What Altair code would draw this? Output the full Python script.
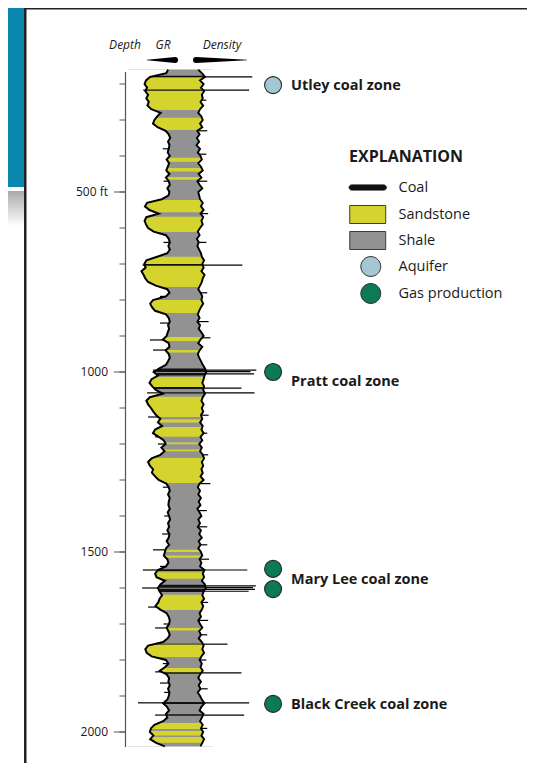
import altair as alt
import pandas as pd
import numpy as np

# ---------------- data ----------------
log_top_ft = 160
log_base_ft = 2040
sample_step_ft = 10

# Gamma-ray (API), one value every 10 ft from 160 ft to 2040 ft
gr_api = [
    123, 118, 72, 60, 56, 63, 58, 66, 61, 68,
    64, 75, 102, 92, 84, 80, 93, 116, 125, 129,
    123, 127, 125, 122, 128, 119, 126, 122, 118, 127,
    117, 125, 128, 121, 127, 124, 105, 63, 57, 70,
    96, 61, 56, 60, 66, 82, 117, 125, 128, 124,
    128, 121, 92, 61, 55, 59, 47, 53, 58, 66,
    88, 121, 127, 117, 80, 72, 77, 86, 117, 125,
    128, 123, 126, 122, 119, 108, 125, 127, 116, 125,
    128, 123, 117, 98, 82, 94, 76, 70, 78, 88,
    108, 71, 61, 66, 74, 81, 89, 101, 94, 106,
    86, 80, 96, 111, 116, 104, 113, 101, 76, 66,
    71, 80, 77, 86, 96, 118, 125, 128, 123, 128,
    125, 124, 128, 122, 126, 129, 123, 126, 121, 127,
    125, 119, 126, 117, 114, 111, 121, 124, 117, 94,
    86, 90, 114, 101, 94, 99, 106, 99, 95, 87,
    101, 119, 125, 128, 126, 119, 124, 128, 122, 109,
    66, 58, 62, 76, 117, 124, 114, 99, 119, 126,
    124, 128, 123, 127, 125, 121, 109, 120, 126, 117,
    121, 109, 84, 74, 71, 81, 72, 89, 114,
]

# Bulk density (g/cc), same sampling
density_gcc = [
    2.70, 2.62, 2.55, 2.66, 2.58, 2.64, 2.57, 2.62, 2.60, 2.65,
    2.59, 2.66, 2.70, 2.63, 2.60, 2.66, 2.61, 2.72, 2.67, 2.73,
    2.68, 2.74, 2.66, 2.71, 2.65, 2.62, 2.70, 2.64, 2.60, 2.69,
    2.63, 2.72, 2.67, 2.61, 2.70, 2.68, 2.66, 2.60, 2.64, 2.58,
    2.65, 2.59, 2.63, 2.60, 2.66, 2.71, 2.67, 2.73, 2.69, 2.72,
    2.68, 2.64, 2.62, 2.57, 2.61, 2.58, 2.63, 2.56, 2.60, 2.62,
    2.66, 2.70, 2.65, 2.61, 2.63, 2.59, 2.64, 2.68, 2.71, 2.67,
    2.72, 2.66, 2.69, 2.63, 2.58, 2.65, 2.70, 2.61, 2.67, 2.71,
    2.68, 2.64, 2.60, 2.55, 2.52, 2.56, 2.58, 2.61, 2.57, 2.59,
    2.55, 2.60, 2.63, 2.58, 2.62, 2.59, 2.64, 2.61, 2.66, 2.60,
    2.63, 2.58, 2.65, 2.61, 2.68, 2.62, 2.66, 2.60, 2.57, 2.62,
    2.59, 2.63, 2.60, 2.65, 2.58, 2.67, 2.71, 2.66, 2.70, 2.64,
    2.69, 2.65, 2.72, 2.67, 2.63, 2.70, 2.66, 2.71, 2.64, 2.68,
    2.62, 2.69, 2.65, 2.70, 2.64, 2.61, 2.67, 2.63, 2.66, 2.56,
    2.60, 2.57, 2.62, 2.55, 2.53, 2.58, 2.61, 2.57, 2.63, 2.59,
    2.62, 2.67, 2.64, 2.70, 2.66, 2.61, 2.68, 2.64, 2.69, 2.62,
    2.58, 2.61, 2.57, 2.63, 2.67, 2.62, 2.65, 2.60, 2.66, 2.70,
    2.64, 2.69, 2.65, 2.71, 2.66, 2.62, 2.56, 2.63, 2.67, 2.58,
    2.62, 2.66, 2.60, 2.64, 2.59, 2.63, 2.57, 2.61, 2.65,
]

sand_tops = [182, 294, 405, 433, 458, 522, 569, 680, 800, 903, 939, 1014, 1069, 1132,
             1153, 1196, 1215, 1239, 1494, 1510, 1556, 1619, 1711, 1753, 1822, 1975, 1997, 2014]
sand_bases = [272, 328, 416, 443, 466, 556, 611, 764, 836, 914, 946, 1042, 1125, 1140,
              1180, 1201, 1220, 1308, 1500, 1516, 1574, 1661, 1718, 1792, 1836, 1992, 2010, 2030]
coal_tops = [177, 215, 700, 990, 1003, 1042, 1056, 1548, 1591, 1602, 1754, 1834, 1917, 1951]
coal_bases = [181, 219, 705, 1000, 1010, 1047, 1060, 1553, 1599, 1611, 1757, 1838, 1922, 1955]

density_spike_depths = [180, 217, 245, 330, 395, 470, 560, 640, 703, 780, 860, 905, 995, 999,
                        1005, 1045, 1058, 1120, 1170, 1230, 1310, 1385, 1430, 1480, 1520, 1550,
                        1594, 1599, 1604, 1609, 1640, 1690, 1730, 1756, 1800, 1836, 1880, 1919,
                        1953, 1990]
density_spike_values = [1.50, 1.57, 2.52, 2.50, 2.52, 2.50, 2.48, 2.52, 1.72, 2.50, 2.47, 2.43,
                        1.41, 1.54, 1.46, 1.74, 1.45, 2.47, 2.50, 2.48, 2.43, 2.51, 2.50, 2.50,
                        2.46, 1.61, 1.42, 1.48, 1.44, 1.58, 2.48, 2.48, 2.50, 2.05, 2.52, 1.74,
                        2.49, 1.57, 1.68, 2.50]

gr_spike_depths = [217, 380, 470, 640, 703, 790, 864, 911, 939, 995, 1058, 1125, 1180, 1200,
                   1244, 1320, 1400, 1450, 1494, 1540, 1550, 1600, 1653, 1700, 1711, 1768,
                   1810, 1833, 1864, 1890, 1919, 1953, 2005]
gr_spike_values = [52, 108, 110, 110, 50, 100, 100, 71, 80, 80, 63, 66, 86, 94,
                   71, 108, 112, 106, 80, 100, 51, 49, 66, 110, 86, 60,
                   108, 86, 100, 112, 37, 86, 80]

tick_depths = [200, 300, 400, 500, 600, 700, 800, 900, 1000, 1100, 1200, 1300,
               1400, 1500, 1600, 1700, 1800, 1900, 2000]
label_depths = [500, 1000, 1500, 2000]
label_texts = ["500 ft", "1000", "1500", "2000"]
axis_top_ft, axis_base_ft = 167, 2042

marker_depths = [203, 1000, 1547, 1603, 1922]
marker_kinds = ["Aquifer", "Gas production", "Gas production", "Gas production", "Gas production"]
zone_names = ["Utley coal zone", "Pratt coal zone", "Mary Lee coal zone", "Black Creek coal zone"]
zone_depths = [205, 1027, 1578, 1925]

legend_kinds = ["Coal", "Sandstone", "Shale", "Aquifer", "Gas production"]

gr_wedge_values = [63, 143]
density_wedge_values = [2.75, 1.62]

# ---------------- styles ----------------
TEAL = "#0b86ac"
BORDER = "#222222"
kind_colors = ["#111111", "#d5d42e", "#929292", "#a4c7d1", "#0c7a52"]
kind_outlines = ["#111111", "#3a3a3a", "#3a3a3a", "#2a2a2a", "#2a2a2a"]
# unit = 12.75 px (symbol size 650)
CIRCLE = "M1.43,0A0.78,0.78 0 1,1 -0.13,0A0.78,0.78 0 1,1 1.43,0Z"
RECT = "M-1.0,-0.706H1.82V0.706H-1.0Z"
LINE = ("M0.4,-0.75M0.4,0.75"
        "M-0.85,-0.2H1.67A0.2,0.2 0 0 1 1.67,0.2H-0.85A0.2,0.2 0 0 1 -0.85,-0.2Z")
kind_shapes = [LINE, RECT, RECT, CIRCLE, CIRCLE]
FONT = "Open Sans"

depth_scale = alt.Scale(domain=[0, 2000], range=[4, 724], nice=False, zero=False)
gr_scale = alt.Scale(domain=[0, 150], range=[117, 169.5], nice=False, zero=False)
rho_scale = alt.Scale(domain=[3.0, 1.5], range=[176.75, 244.25], nice=False, zero=False)
color_scale = alt.Scale(domain=legend_kinds, range=kind_colors)
shape_scale = alt.Scale(domain=legend_kinds, range=kind_shapes)
stroke_scale = alt.Scale(domain=legend_kinds, range=kind_outlines)

legend = alt.Legend(
    title="EXPLANATION", orient="none", legendX=341, legendY=141,
    symbolSize=650, labelOffset=22.5, rowPadding=1, titlePadding=9,
    titleFont=FONT, titleFontSize=16, titleFontWeight="bold", titleColor="#1a1a1a",
    labelFont=FONT, labelFontSize=14.5, labelColor="#1a1a1a",
    symbolStrokeColor="#333333", symbolStrokeWidth=1, symbolOpacity=1,
)

# ---------------- tables ----------------
depths = list(range(log_top_ft, log_base_ft + 1, sample_step_ft))
logs = pd.DataFrame({"depth": depths, "gr": gr_api, "rho": density_gcc})

litho = pd.DataFrame(
    {"top": [log_top_ft] + sand_tops + coal_tops,
     "base": [log_base_ft] + sand_bases + coal_bases,
     "kind": ["Shale"] + ["Sandstone"] * len(sand_tops) + ["Coal"] * len(coal_tops)}
)

dspk = pd.DataFrame({"depth": density_spike_depths, "rho": density_spike_values,
                     "base": np.interp(density_spike_depths, depths, density_gcc)})
gspk = pd.DataFrame({"depth": gr_spike_depths, "gr": gr_spike_values,
                     "base": np.interp(gr_spike_depths, depths, gr_api)})
ticks = pd.DataFrame({"depth": tick_depths})
labels = pd.DataFrame({"depth": label_depths, "label": label_texts})
markers = pd.DataFrame({"depth": marker_depths, "kind": marker_kinds})
zones = pd.DataFrame({"depth": zone_depths, "name": zone_names})
one = pd.DataFrame({"a": [0]})

Y = lambda f="depth": alt.Y(f"{f}:Q", scale=depth_scale, axis=None)

# ---------------- frame ----------------
teal = alt.Chart(one).mark_rect(color=TEAL).encode(
    x=alt.value(0), x2=alt.value(16), y=alt.value(0), y2=alt.value(179))
fade = alt.Chart(one).mark_rect(
    color=alt.Gradient(gradient="linear",
                       stops=[alt.GradientStop(color="#a9a9a9", offset=0),
                              alt.GradientStop(color="#ffffff", offset=1)],
                       x1=0, x2=0, y1=0, y2=1)
).encode(x=alt.value(0), x2=alt.value(16), y=alt.value(183), y2=alt.value(218))
vborder = alt.Chart(one).mark_rect(color=BORDER).encode(
    x=alt.value(16), x2=alt.value(18.5), y=alt.value(0), y2=alt.value(755))
hborder = alt.Chart(one).mark_rect(color=BORDER).encode(
    x=alt.value(16), x2=alt.value(519), y=alt.value(0), y2=alt.value(1.5))

# ---------------- log ----------------
litho_layer = alt.Chart(litho).mark_rect().encode(
    x=alt.value(120), x2=alt.value(205),
    y=Y("top"), y2="base:Q",
    color=alt.Color("kind:N", scale=color_scale, legend=legend),
)
gr_mask = alt.Chart(logs).mark_area(orient="horizontal", color="white").encode(
    y=Y(), x=alt.X("gr:Q", scale=gr_scale, axis=None, stack=None), x2=alt.value(119))
rho_mask = alt.Chart(logs).mark_area(orient="horizontal", color="white").encode(
    y=Y(), x=alt.X("rho:Q", scale=rho_scale, axis=None, stack=None), x2=alt.value(207))
gr_line = alt.Chart(logs).mark_line(color="black", strokeWidth=2).encode(
    y=Y(), x=alt.X("gr:Q", scale=gr_scale, axis=None), order="depth:Q")
rho_line = alt.Chart(logs).mark_line(color="black", strokeWidth=1.9).encode(
    y=Y(), x=alt.X("rho:Q", scale=rho_scale, axis=None), order="depth:Q")
gr_spikes = alt.Chart(gspk).mark_rule(color="black", strokeWidth=1.2).encode(
    y=Y(), x=alt.X("gr:Q", scale=gr_scale, axis=None), x2="base:Q")
rho_spikes = alt.Chart(dspk).mark_rule(color="black", strokeWidth=1.2).encode(
    y=Y(), x=alt.X("rho:Q", scale=rho_scale, axis=None), x2="base:Q")

# ---------------- depth axis ----------------
axis_line = alt.Chart(pd.DataFrame({"t": [axis_top_ft], "b": [axis_base_ft]})).mark_rule(
    color="#555555", strokeWidth=1.2).encode(x=alt.value(117.5), y=Y("t"), y2="b:Q")
minor = alt.Chart(ticks).mark_rule(color="#555555", strokeWidth=1).encode(
    x=alt.value(111.5), x2=alt.value(117.5), y=Y())
major = alt.Chart(labels).mark_rule(color="#555555", strokeWidth=1).encode(
    x=alt.value(106), x2=alt.value(117.5), y=Y())
major_text = alt.Chart(labels).mark_text(
    align="right", baseline="middle", font=FONT, fontSize=12, color="#1a1a1a"
).encode(x=alt.value(100), y=Y(), text="label:N")

# ---------------- header ----------------
head = alt.Chart(pd.DataFrame({"t": ["Depth", "GR", "Density"], "x": [117, 155, 214]})).mark_text(
    font=FONT, fontSize=12, fontStyle="italic", color="#1a1a1a", baseline="middle"
).encode(x=alt.X("x:Q", scale=alt.Scale(domain=[0, 519], range=[0, 519]), axis=None),
         y=alt.value(37), text="t:N")
gr_wedge = alt.Chart(pd.DataFrame({"v": gr_wedge_values, "w": [0.6, 6.0]})).mark_trail(
    color="black").encode(x=alt.X("v:Q", scale=gr_scale, axis=None), y=alt.value(52),
                          size=alt.Size("w:Q", scale=None, legend=None), order="v:Q")
rho_wedge = alt.Chart(pd.DataFrame({"v": density_wedge_values, "w": [6.0, 0.6]})).mark_trail(
    color="black").encode(x=alt.X("v:Q", scale=rho_scale, axis=None), y=alt.value(52),
                          size=alt.Size("w:Q", scale=None, legend=None), order="w:Q")

# ---------------- zones ----------------
marker_layer = alt.Chart(markers).mark_point(
    filled=True, opacity=1, strokeWidth=1.1, size=475
).encode(
    x=alt.value(258), y=Y(),
    color=alt.Color("kind:N", scale=color_scale, legend=legend),
    shape=alt.Shape("kind:N", scale=shape_scale, legend=legend),
    stroke=alt.Stroke("kind:N", scale=stroke_scale, legend=legend),
)
zone_text = alt.Chart(zones).mark_text(
    align="left", baseline="middle", font=FONT, fontSize=14.5, fontWeight="bold", color="#1a1a1a"
).encode(x=alt.value(283), y=Y(), text="name:N")

chart = alt.layer(
    teal, fade, vborder, hborder,
    litho_layer, gr_mask, rho_mask, gr_line, rho_line, gr_spikes, rho_spikes,
    axis_line, minor, major, major_text,
    head, gr_wedge, rho_wedge,
    marker_layer, zone_text,
).resolve_scale(x="independent").properties(
    width=519, height=755, padding=0,
    autosize=alt.AutoSizeParams(type="none"),
    background="white",
).configure_view(strokeWidth=0)

chart.save("out.html", embed_options={"renderer": "svg", "actions": False})
